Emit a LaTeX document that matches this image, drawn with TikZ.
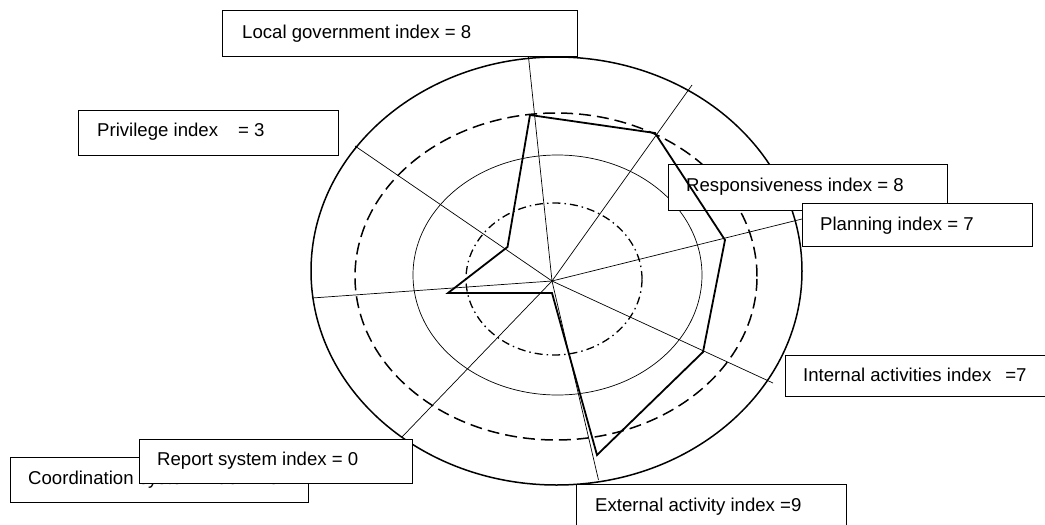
\documentclass[tikz,border=0pt]{standalone}
\usepackage{fontspec}
\setmainfont{Liberation Sans}
\begin{document}
\begin{tikzpicture}[x=1pt,y=-1pt,
  outerring/.style={line width=1.5pt},
  dashring/.style={line width=1.5pt, dash pattern=on 12pt off 6pt},
  midring/.style={line width=0.7pt},
  dotring/.style={line width=1.3pt, dash pattern=on 8pt off 4pt on 1.5pt off 4pt},
  spoke/.style={line width=0.7pt},
  poly/.style={line width=1.8pt, line join=miter},
  box/.style={draw, fill=white, line width=1.4pt, anchor=north west, inner sep=0pt},
  lbl/.style={anchor=base west, inner sep=0pt, font=\fontsize{18.6pt}{22pt}\selectfont}
]
\useasboundingbox (0,0) rectangle (1045,525);
\fill[white] (0,0) rectangle (1045,525);

% rings
\draw[outerring] (556.5,271) ellipse [x radius=245.5pt, y radius=214pt];
\draw[dashring] (556,276.5) ellipse [x radius=201pt, y radius=163.5pt];
\draw[midring] (557.5,275) ellipse [x radius=144.5pt, y radius=120pt];
\draw[dotring] (554,279) ellipse [x radius=88pt, y radius=76pt];

% spokes
\coordinate (c) at (552,281);
\coordinate (s1) at (528.5,57);
\coordinate (s2) at (692,85);
\coordinate (s3) at (802,219);
\coordinate (s4) at (773,383);
\coordinate (s5) at (598.5,480);
\coordinate (s6) at (402,437);
\coordinate (s7) at (312,298);
\coordinate (s8) at (355,146);
\foreach \s in {s1,s2,s3,s4,s5,s6,s7,s8} \draw[spoke] (c) -- (\s);

% boxes
\node[box, minimum width=355pt, minimum height=46pt] (locbox) at (222,10) {};
\node[lbl] (loc) at (242,38) {Local government index = 8};
\node[box, minimum width=260pt, minimum height=45pt] (privbox) at (78,110) {};
\node[lbl] (priv) at (97,136) {Privilege index\hspace*{20pt}= 3};
\node[box, minimum width=279pt, minimum height=46pt] (respbox) at (668,164) {};
\node[lbl] (resp) at (686,191) {Responsiveness index = 8};
\node[box, minimum width=230pt, minimum height=43pt] (planbox) at (802,203) {};
\node[lbl] (plan) at (820,230) {Planning index = 7};
\node[box, minimum width=262pt, minimum height=41pt] (intbox) at (785,355) {};
\node[lbl] (int) at (803,381) {Internal activities index\hspace*{14pt}=7};
\node[box, minimum width=270pt, minimum height=46pt] (extbox) at (576,484) {};
\node[lbl] (ext) at (595,511) {External activity index =9};
\node[box, minimum width=298pt, minimum height=45pt] (coordbox) at (10,457) {};
\node[lbl] (coord) at (28,484) {Coordination system index = 5};
\node[box, minimum width=273pt, minimum height=44pt] (repbox) at (139,439) {};
\node[lbl] (rep) at (157,465) {Report system index = 0};

% polygon
\coordinate (p1) at (530,115);
\coordinate (p2) at (655,133);
\coordinate (p3) at (725,240);
\coordinate (p4) at (703,352);
\coordinate (p5) at (597,455);
\coordinate (p6) at (552,293);
\coordinate (p7) at (448,293);
\coordinate (p8) at (507.5,247);
\draw[poly] (p1) -- (p2) -- (p3) -- (p4) -- (p5) -- (p6) -- (p7) -- (p8) -- cycle;
\end{tikzpicture}
\end{document}
